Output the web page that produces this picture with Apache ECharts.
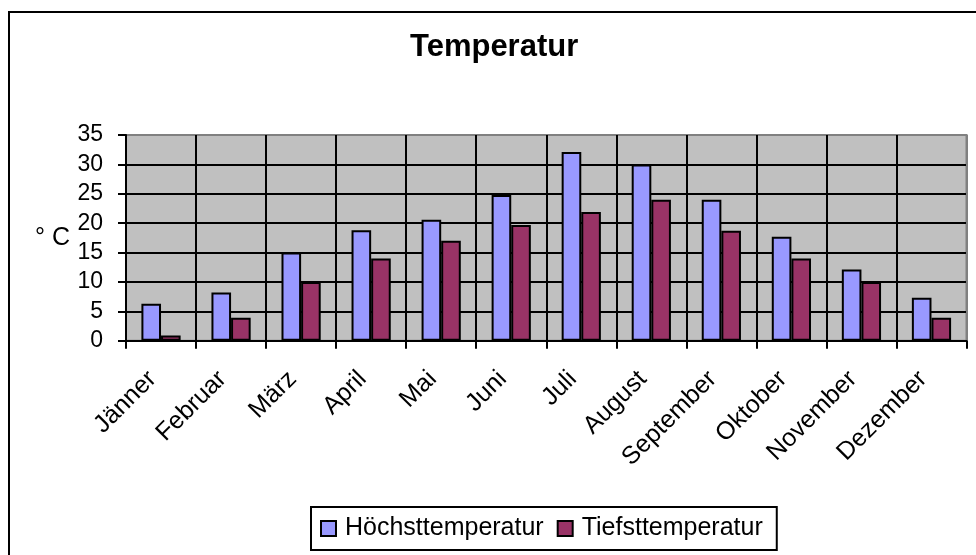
<!DOCTYPE html>
<html>
<head>
<meta charset="utf-8">
<script src="https://cdn.jsdelivr.net/npm/echarts@6/dist/echarts.min.js"></script>
<style>
html,body{margin:0;padding:0;background:#fff;}
#chart{width:976px;height:555px;}
</style>
</head>
<body>
<div id="chart"></div>
<script>
var months = ['Jänner','Februar','März','April','Mai','Juni','Juli','August','September','Oktober','November','Dezember'];
var hoechst = [6.3, 8.2, 15, 18.8, 20.6, 24.8, 32.1, 30, 24, 17.7, 12.1, 7.3];
var tiefst = [0.9, 3.9, 10, 14, 17, 19.7, 21.9, 24, 18.7, 14, 10, 3.9];
var yTicks = {min: 0, max: 35, interval: 5};
var seriesNames = ['Höchsttemperatur', 'Tiefsttemperatur'];

var FONT = '"Liberation Sans", Arial, sans-serif';
var ySplitColors = [];
for (var i = 0; i < 7; i++) ySplitColors.push('#000');
ySplitColors.push('#808080');
var xSplitColors = [];
for (var j = 0; j < 12; j++) xSplitColors.push('#000');
xSplitColors.push('#808080');

var chart = echarts.init(document.getElementById('chart'), null, {renderer: 'canvas'});
chart.setOption({
  backgroundColor: '#fff',
  animation: false,
  graphic: [{
    type: 'rect',
    shape: {x: 9, y: 12, width: 1000, height: 600},
    style: {fill: 'none', stroke: '#000', lineWidth: 2},
    z: 100
  }],
  title: {
    text: 'Temperatur',
    left: 410,
    top: 32,
    padding: 0,
    textStyle: {fontFamily: FONT, fontSize: 31, fontWeight: 'bold', color: '#000'}
  },
  legend: {
    left: 311,
    top: 507,
    padding: [9, 14, 9, 9],
    borderColor: '#000',
    borderWidth: 2,
    itemWidth: 15,
    itemHeight: 15,
    itemGap: 13,
    icon: 'rect',
    textStyle: {fontFamily: FONT, fontSize: 25, color: '#000', padding: [0, 0, 0, 4]},
    data: seriesNames
  },
  grid: {
    left: 126,
    top: 135,
    right: 9.5,
    bottom: 214.3,
    show: true,
    backgroundColor: '#C0C0C0',
    borderColor: '#808080',
    borderWidth: 2
  },
  xAxis: {
    type: 'category',
    data: months,
    boundaryGap: true,
    axisLine: {show: true, lineStyle: {color: '#000', width: 2}},
    axisTick: {show: true, length: 8, inside: false, alignWithLabel: false, lineStyle: {color: '#000', width: 2}},
    splitLine: {show: true, lineStyle: {color: xSplitColors, width: 2}},
    axisLabel: {
      rotate: 45,
      interval: 0,
      margin: 26,
      padding: [0, 12, 0, 0],
      fontFamily: FONT,
      fontSize: 25,
      color: '#000'
    }
  },
  yAxis: {
    type: 'value',
    min: yTicks.min,
    max: yTicks.max,
    interval: yTicks.interval,
    name: '° C',
    nameLocation: 'middle',
    nameRotate: 0,
    nameGap: 56,
    nameTextStyle: {fontFamily: FONT, fontSize: 25, color: '#000', align: 'right', verticalAlign: 'middle', padding: [0, 0, 12, 0]},
    axisLine: {show: true, lineStyle: {color: '#000', width: 2}},
    axisTick: {show: true, length: 8, inside: false, lineStyle: {color: '#000', width: 2}},
    splitLine: {show: true, lineStyle: {color: ySplitColors, width: 2}},
    axisLabel: {margin: 23, fontFamily: FONT, fontSize: 23, color: '#000'}
  },
  series: [{
    name: seriesNames[0],
    type: 'bar',
    data: hoechst,
    barGap: '0%',
    barCategoryGap: '44%',
    itemStyle: {color: '#9999FF', borderColor: '#000', borderWidth: 2}
  }, {
    name: seriesNames[1],
    type: 'bar',
    data: tiefst,
    barGap: '0%',
    barCategoryGap: '44%',
    itemStyle: {color: '#993366', borderColor: '#000', borderWidth: 2}
  }]
});
</script>
</body>
</html>
